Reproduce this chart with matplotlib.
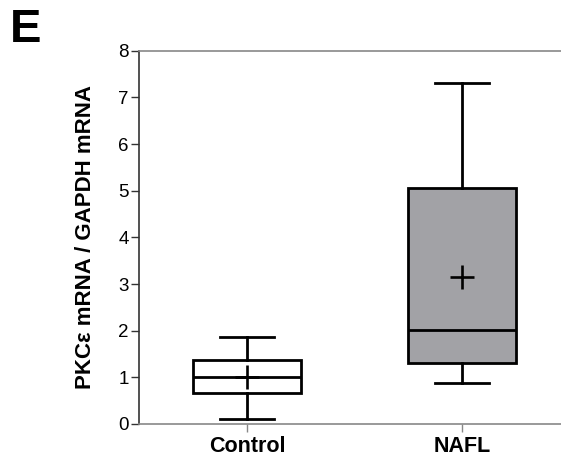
import matplotlib.pyplot as plt

plt.rcParams['font.family'] = ['Liberation Sans', 'DejaVu Sans']

groups = ['Control', 'NAFL']
whisker_low = [0.10, 0.87]
q1 = [0.67, 1.30]
median = [1.01, 2.02]
q3 = [1.37, 5.06]
whisker_high = [1.86, 7.30]
mean = [1.01, 3.16]
fills = ['white', '#a2a2a6']

stats = []
for i, g in enumerate(groups):
    stats.append({'label': g, 'whislo': whisker_low[i], 'q1': q1[i], 'med': median[i],
                  'q3': q3[i], 'whishi': whisker_high[i], 'mean': mean[i]})

fig = plt.figure(figsize=(5.61, 4.59), dpi=100)
ax = fig.add_axes([139.3 / 561, 35 / 459, 1 - 139.3 / 561, 373.3 / 459])

lw = 2.0
bp = ax.bxp(stats, positions=[1, 2], widths=0.5, capwidths=0.25, showmeans=True,
            showfliers=False, patch_artist=True,
            boxprops=dict(linewidth=lw, edgecolor='black'),
            whiskerprops=dict(linewidth=lw, color='black'),
            capprops=dict(linewidth=lw, color='black'),
            medianprops=dict(linewidth=lw, color='black'),
            meanprops=dict(marker='+', markersize=17, markeredgewidth=1.9,
                           markeredgecolor='black'))
for patch, c in zip(bp['boxes'], fills):
    patch.set_facecolor(c)

ax.set_xlim(0.5, 2.46)
ax.set_ylim(0, 8)
ax.set_yticks(range(0, 9))
ax.spines['right'].set_visible(False)
ax.spines['left'].set_color('#333333')
ax.spines['top'].set_color('#888888')
ax.spines['bottom'].set_color('#888888')
for s in ['left', 'top', 'bottom']:
    ax.spines[s].set_linewidth(1.2)

ax.tick_params(axis='y', direction='out', length=5.5, width=1.0, color='#333333',
               labelsize=13.5, pad=2)
ax.tick_params(axis='x', direction='out', length=5.5, width=1.0, color='#888888',
               labelsize=15.5, pad=3)
for t in ax.get_xticklabels():
    t.set_fontweight('bold')

ax.set_ylabel('PKCε mRNA / GAPDH mRNA', fontsize=16, fontweight='bold')
ax.yaxis.set_label_coords(-0.1015, 0.5)

fig.text(10 / 561, 1 - 8 / 459, 'E', fontsize=34, fontweight='bold', ha='left', va='top')

fig.savefig('out.png', dpi=100)
